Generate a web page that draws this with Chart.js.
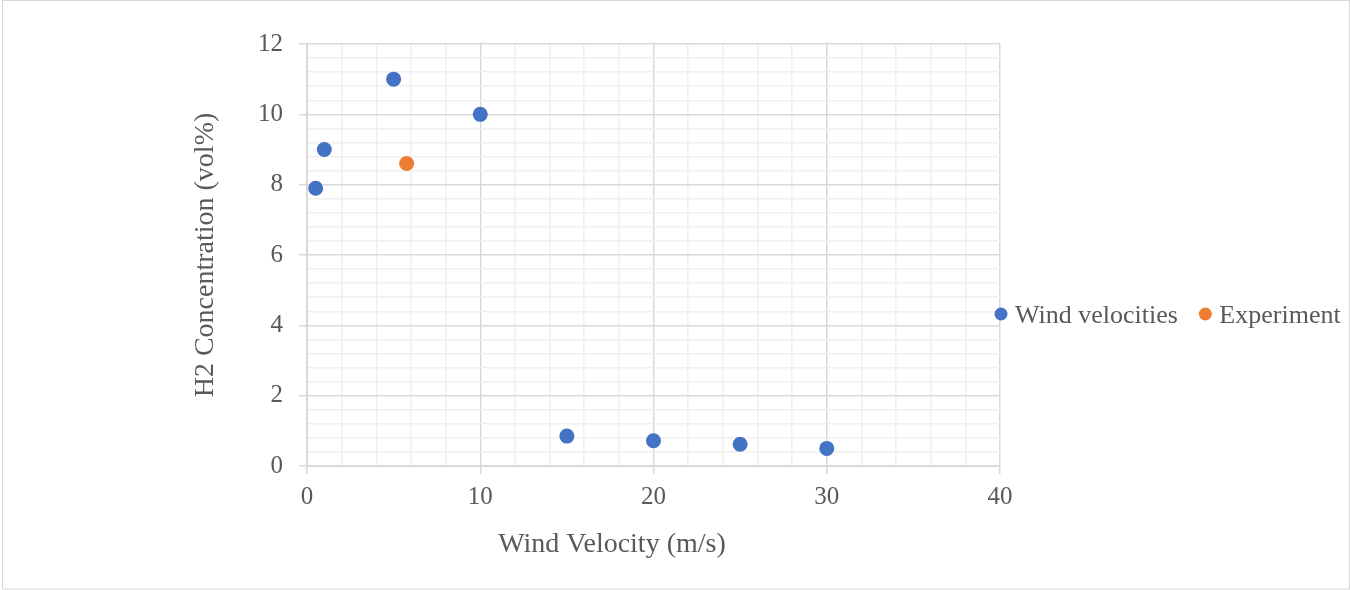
<!DOCTYPE html>
<html>
<head>
<meta charset="utf-8">
<script src="https://cdn.jsdelivr.net/npm/chart.js@4.4.0/dist/chart.umd.min.js"></script>
<style>
  body { margin: 0; background: #ffffff; }
  canvas { display: block; }
</style>
</head>
<body>
<canvas id="myChart" width="1350" height="590"></canvas>
<script>
// wind velocity (m/s) vs H2 concentration (vol%)
const windX = [0.5, 1, 5, 10, 15, 20, 25, 30];
const windY = [7.9, 9, 11, 10, 0.85, 0.72, 0.62, 0.5];
const expX = [5.75];
const expY = [8.6];

const seriesNames = ["Wind velocities", "Experiment"];
const xTitle = "Wind Velocity (m/s)";
const yTitle = "H2 Concentration (vol%)";

const xMajor = 10;
const yMajor = 2;

const textColor = "#595959";
const majorLine = "#d9d9d9";
const minorLine = "#f0f0f0";

function toPoints(xs, ys) {
  return xs.map((x, i) => ({x: x, y: ys[i]}));
}

function isMajor(v, step) {
  return Math.abs(v / step - Math.round(v / step)) < 1e-6;
}

const data = {
  datasets: [
    {
      label: seriesNames[0],
      data: toPoints(windX, windY),
      backgroundColor: "#4472c4",
      borderWidth: 0,
      pointRadius: 7.5,
      pointHoverRadius: 7.5,
    },
    {
      label: seriesNames[1],
      data: toPoints(expX, expY),
      backgroundColor: "#ed7d31",
      borderWidth: 0,
      pointRadius: 7.5,
      pointHoverRadius: 7.5,
    },
  ],
};

// legend in one row + off-centre x title + outer frame
const extras = {
  id: "extras",
  beforeDraw(chart) {
    const c = chart.ctx;
    c.save();
    c.fillStyle = "#ffffff";
    c.fillRect(0, 0, chart.width, chart.height);
    c.strokeStyle = "#d9d9d9";
    c.lineWidth = 1;
    c.strokeRect(2.5, 0.5, chart.width - 3, chart.height - 1.5);
    c.restore();
  },
  afterDraw(chart) {
    const c = chart.ctx;
    c.save();
    c.fillStyle = textColor;

    c.font = "28px 'Liberation Serif'";
    c.textAlign = "center";
    c.textBaseline = "alphabetic";
    c.fillText(xTitle, 612, 552);

    c.translate(213, 255);
    c.rotate(-Math.PI / 2);
    c.fillText(yTitle, 0, 0);
    c.restore();

    c.save();
    c.font = "26px 'Liberation Serif'";
    c.textAlign = "left";
    c.textBaseline = "alphabetic";
    let x = 994.5;
    chart.data.datasets.forEach((ds) => {
      c.fillStyle = ds.backgroundColor;
      c.beginPath();
      c.arc(x + 6.5, 314, 6.5, 0, Math.PI * 2);
      c.fill();
      c.fillStyle = textColor;
      c.fillText(ds.label, x + 20.5, 323);
      x += 20.5 + c.measureText(ds.label).width + 21;
    });
    c.restore();
  },
};

const config = {
  type: "scatter",
  data: data,
  options: {
    responsive: false,
    animation: false,
    devicePixelRatio: 1,
    layout: {
      padding: {left: 0, top: 44, right: 350, bottom: 0},
    },
    plugins: {
      legend: {display: false},
      tooltip: {enabled: false},
    },
    scales: {
      x: {
        type: "linear",
        min: 0,
        max: 40,
        afterFit: (scale) => { scale.height = 124; },
        ticks: {
          stepSize: 2,
          maxTicksLimit: 100,
          autoSkip: false,
          maxRotation: 0,
          padding: 8,
          color: textColor,
          font: {family: "'Liberation Serif'", size: 25},
          callback: (v) => (isMajor(v, xMajor) ? v : ""),
        },
        grid: {
          tickLength: 8,
          lineWidth: 1.5,
          color: (ctx) => (isMajor(ctx.tick.value, xMajor) ? majorLine : minorLine),
          tickColor: (ctx) => (isMajor(ctx.tick.value, xMajor) ? majorLine : "rgba(0,0,0,0)"),
        },
        border: {color: majorLine, width: 2},
      },
      y: {
        min: 0,
        max: 12,
        afterFit: (scale) => { scale.width = 307; },
        ticks: {
          stepSize: 0.4,
          maxTicksLimit: 100,
          autoSkip: false,
          padding: 16,
          color: textColor,
          font: {family: "'Liberation Serif'", size: 25},
          callback: (v) => (isMajor(v, yMajor) ? Math.round(v) : ""),
        },
        grid: {
          tickLength: 8,
          lineWidth: 1.5,
          color: (ctx) => (isMajor(ctx.tick.value, yMajor) ? majorLine : minorLine),
          tickColor: (ctx) => (isMajor(ctx.tick.value, yMajor) ? majorLine : "rgba(0,0,0,0)"),
        },
        border: {color: majorLine, width: 2},
      },
    },
  },
  plugins: [extras],
};

const ctx = document.getElementById("myChart");
const myChart = new Chart(ctx, config);
</script>
</body>
</html>
